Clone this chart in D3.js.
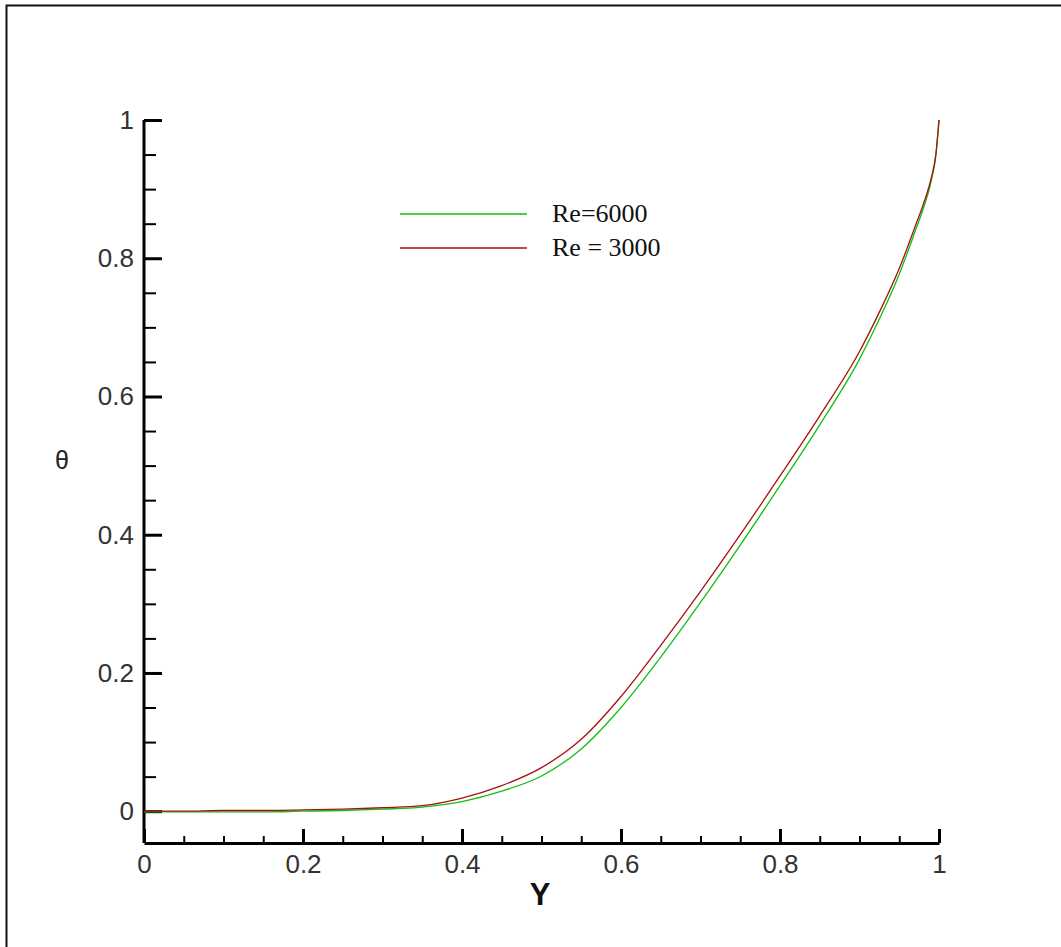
<!DOCTYPE html>
<html>
<head>
<meta charset="utf-8">
<script src="https://cdn.jsdelivr.net/npm/d3@7"></script>
<style>
  html, body { margin: 0; padding: 0; background: #fff; }
  svg { display: block; }
</style>
</head>
<body>
<svg id="chart" width="1061" height="947"></svg>
<script>
// Dimensionless distance Y and temperature θ for two Reynolds numbers
const yPos = [0, 0.05, 0.1, 0.15, 0.2, 0.25, 0.3, 0.35, 0.4, 0.45, 0.5, 0.55, 0.6, 0.65,
              0.7, 0.75, 0.8, 0.85, 0.9, 0.925, 0.95, 0.97, 0.98, 0.99, 0.996, 1.0];
const thetaRe6000 = [-0.001, -0.001, -0.001, -0.001, 0.000, 0.001, 0.003, 0.006, 0.014, 0.029,
                     0.051, 0.090, 0.150, 0.223, 0.302, 0.385, 0.471, 0.559, 0.654, 0.712,
                     0.777, 0.839, 0.871, 0.911, 0.948, 1.0];
const thetaRe3000 = [0.000, 0.000, 0.001, 0.001, 0.002, 0.003, 0.005, 0.008, 0.019, 0.037,
                     0.063, 0.104, 0.166, 0.240, 0.318, 0.400, 0.485, 0.572, 0.665, 0.722,
                     0.785, 0.846, 0.877, 0.915, 0.950, 1.0];

const seriesNames = ["Re=6000", "Re = 3000"];
const seriesColors = ["#10c010", "#a81010"];

const xMajor = [0, 0.2, 0.4, 0.6, 0.8, 1];
const yMajor = [0, 0.2, 0.4, 0.6, 0.8, 1];
const xMinor = d3.range(1, 20).map(i => i * 0.05).filter(v => Math.abs(v * 5 - Math.round(v * 5)) > 1e-6);
const yMinor = xMinor.slice();

const svg = d3.select("#chart");

// outer frame (top and left edges visible)
svg.append("rect").attr("x", 0).attr("y", 0).attr("width", 1061).attr("height", 947).attr("fill", "#fff");
svg.append("path")
  .attr("d", "M6.5,947 V5.5 H1061")
  .attr("fill", "none").attr("stroke", "#111").attr("stroke-width", 2);

const x = d3.scaleLinear().domain([0, 1]).range([144, 939]);
const y = d3.scaleLinear().domain([-0.046, 1]).range([843, 120]);

const labelFont = "'Liberation Sans', Arial, sans-serif";

// minor ticks
svg.append("g").attr("transform", "translate(0,843)")
  .call(d3.axisBottom(x).tickValues(xMinor).tickSize(-7).tickSizeOuter(0).tickFormat(""))
  .call(g => g.select(".domain").remove())
  .call(g => g.selectAll("line").attr("stroke", "#000").attr("stroke-width", 2));
svg.append("g").attr("transform", "translate(144,0)")
  .call(d3.axisLeft(y).tickValues(yMinor).tickSize(-12).tickSizeOuter(0).tickFormat(""))
  .call(g => g.select(".domain").remove())
  .call(g => g.selectAll("line").attr("stroke", "#000").attr("stroke-width", 2));

// major ticks with labels
svg.append("g").attr("transform", "translate(0,843)")
  .call(d3.axisBottom(x).tickValues(xMajor).tickSize(-14).tickSizeOuter(0).tickPadding(12)
        .tickFormat(d => d3.format("")(+d.toFixed(1))))
  .call(g => g.select(".domain").attr("stroke", "#000").attr("stroke-width", 3))
  .call(g => g.selectAll("line").attr("stroke", "#000").attr("stroke-width", 3))
  .call(g => g.selectAll("text").attr("font-family", labelFont).attr("font-size", 26)
        .attr("fill", "#333"));
svg.append("g").attr("transform", "translate(144,0)")
  .call(d3.axisLeft(y).tickValues(yMajor).tickSize(-18).tickSizeOuter(0).tickPadding(10)
        .tickFormat(d => d3.format("")(+d.toFixed(1))))
  .call(g => g.select(".domain").attr("stroke", "#000").attr("stroke-width", 3)
        .attr("d", `M0,${y(1)}V843`))
  .call(g => g.selectAll("line").attr("stroke", "#000").attr("stroke-width", 3))
  .call(g => g.selectAll("text").attr("font-family", labelFont).attr("font-size", 26)
        .attr("fill", "#333"));

// axis titles
svg.append("text").attr("x", 540).attr("y", 905).attr("text-anchor", "middle")
  .attr("font-family", labelFont).attr("font-size", 31).attr("font-weight", "bold")
  .attr("fill", "#111").text("Y");
svg.append("text").attr("x", 62).attr("y", 469).attr("text-anchor", "middle")
  .attr("font-family", labelFont).attr("font-size", 25)
  .attr("fill", "#222").text("θ");

// curves
const line = d3.line().x(d => x(d[0])).y(d => y(d[1])).curve(d3.curveMonotoneX);
[thetaRe6000, thetaRe3000].forEach((vals, i) => {
  svg.append("path")
    .datum(yPos.map((v, k) => [v, vals[k]]))
    .attr("fill", "none")
    .attr("stroke", seriesColors[i])
    .attr("stroke-width", 1.3)
    .attr("d", line);
});

// legend
const legend = svg.append("g");
seriesNames.forEach((name, i) => {
  const ly = 214 + i * 34;
  legend.append("line").attr("x1", 400).attr("x2", 527).attr("y1", ly).attr("y2", ly)
    .attr("stroke", seriesColors[i]).attr("stroke-width", 1.5);
  legend.append("text").attr("x", 552).attr("y", ly + 8)
    .attr("font-family", "'Liberation Serif', 'Times New Roman', serif")
    .attr("font-size", 26).attr("fill", "#111").text(name);
});
</script>
</body>
</html>
